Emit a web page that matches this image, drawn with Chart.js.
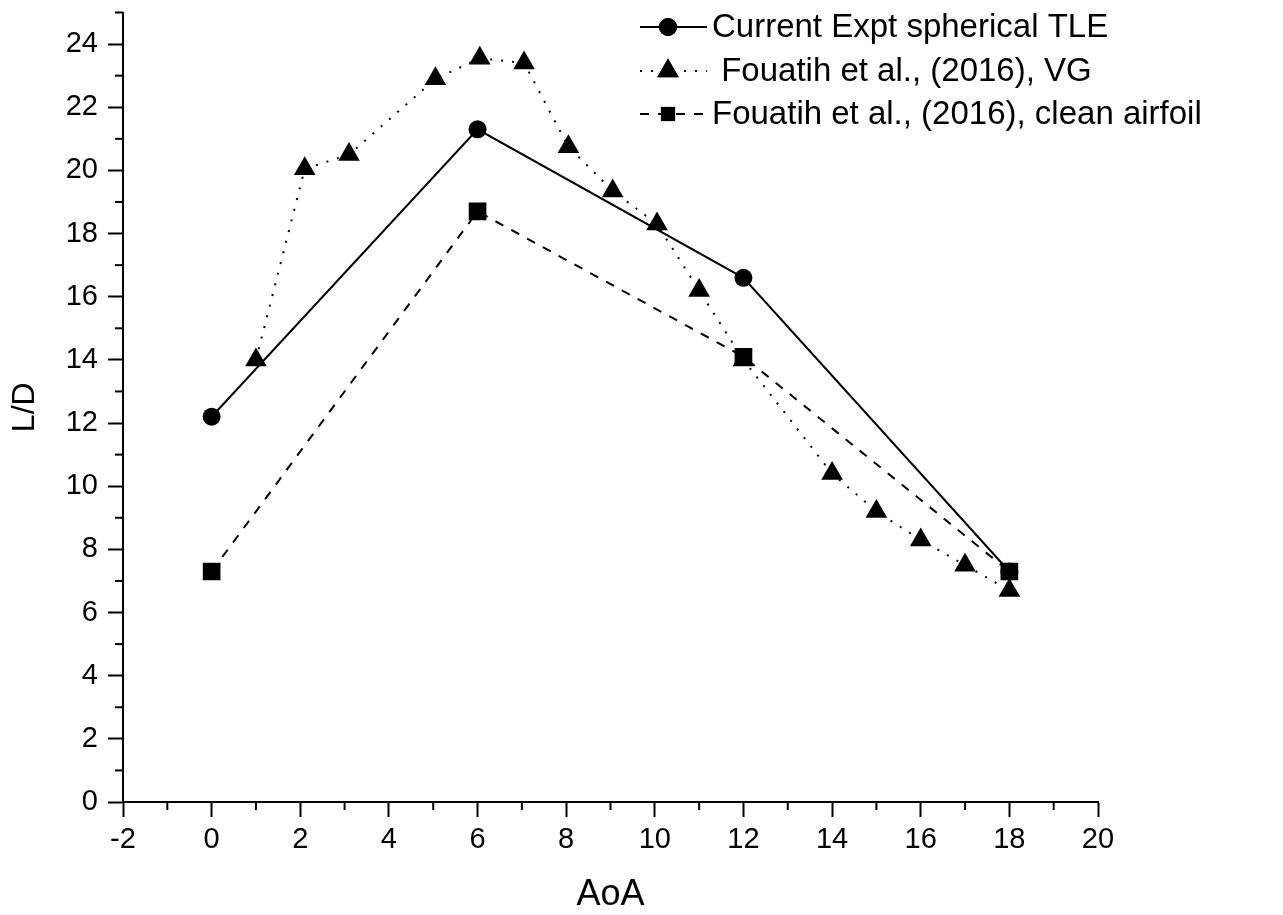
<!DOCTYPE html>
<html>
<head>
<meta charset="utf-8">
<style>
  html, body { margin: 0; padding: 0; background: #fff; }
  .chartBox { width: 1283px; height: 915px; }
</style>
</head>
<body>
<div class="chartBox">
  <canvas id="myChart" width="1283" height="915"></canvas>
</div>

<script type="text/javascript" src="https://cdn.jsdelivr.net/npm/chart.js"></script>

<script>
// data
const aoaTLE = [0, 6, 12, 18];
const ldTLE = [12.2, 21.3, 16.6, 7.3];

const aoaVG = [1, 2.1, 3.1, 5.05, 6.05, 7.05, 8.05, 9.05, 10.05, 11, 12, 14, 15, 16, 17, 18];
const ldVG = [14.0, 20.05, 20.5, 22.9, 23.55, 23.4, 20.75, 19.35, 18.3, 16.2, 14.0, 10.4, 9.2, 8.3, 7.5, 6.7];

const aoaClean = [0, 6, 12, 18];
const ldClean = [7.3, 18.7, 14.1, 7.3];

const seriesNames = ['Current Expt spherical TLE', ' Fouatih et al., (2016), VG', 'Fouatih et al., (2016), clean airfoil'];

const xTicksMin = -2, xTicksMax = 20;
const yTicksMin = 0, yTicksMax = 25;

const pts = (xs, ys) => xs.map((x, i) => ({x: x, y: ys[i]}));
const FONT = "'Liberation Sans', Arial, sans-serif";

const styles = [
  {pointStyle: 'circle', radius: 9, legendRadius: 9, dash: []},
  {pointStyle: 'triangle', radius: 12.5, legendRadius: 12.5, dash: [2, 9]},
  {pointStyle: 'rect', radius: 12.5, legendRadius: 10, dash: [9, 9]}
];
const seriesData = [pts(aoaTLE, ldTLE), pts(aoaVG, ldVG), pts(aoaClean, ldClean)];

const datasets = seriesData.map((d, i) => ({
  label: seriesNames[i],
  data: d,
  borderColor: '#000',
  backgroundColor: '#000',
  borderWidth: 2,
  borderDash: styles[i].dash,
  pointStyle: styles[i].pointStyle,
  pointRadius: styles[i].radius,
  pointHoverRadius: styles[i].radius,
  pointBorderWidth: 0,
  pointBackgroundColor: '#000',
  tension: 0,
  fill: false
}));

// minor ticks + custom legend
const extras = {
  id: 'extras',
  afterDraw(chart) {
    const ctx = chart.ctx;
    const xs = chart.scales.x, ys = chart.scales.y;
    ctx.save();
    ctx.strokeStyle = '#000';
    ctx.lineWidth = 2;
    ctx.setLineDash([]);
    for (let v = xTicksMin + 1; v < xTicksMax; v += 2) {
      const px = xs.getPixelForValue(v);
      ctx.beginPath();
      ctx.moveTo(px, ys.bottom);
      ctx.lineTo(px, ys.bottom + 8);
      ctx.stroke();
    }
    for (let v = yTicksMin + 1; v <= yTicksMax; v += 2) {
      const py = ys.getPixelForValue(v);
      ctx.beginPath();
      ctx.moveTo(xs.left, py);
      ctx.lineTo(xs.left - 8, py);
      ctx.stroke();
    }

    // legend
    const rows = [27, 71, 114];
    ctx.font = '33px ' + FONT;
    ctx.textBaseline = 'middle';
    ctx.fillStyle = '#000';
    rows.forEach((ry, i) => {
      ctx.setLineDash(styles[i].dash);
      ctx.lineWidth = 2;
      ctx.beginPath();
      ctx.moveTo(640, ry);
      ctx.lineTo(707, ry);
      ctx.stroke();
      ctx.setLineDash([]);
      Chart.helpers.drawPoint(ctx, {pointStyle: styles[i].pointStyle, radius: styles[i].legendRadius, borderWidth: 0, rotation: 0}, 668, ry);
      ctx.fill();
      ctx.fillText(seriesNames[i], 712, ry + 1);
    });
    ctx.restore();
  }
};

const config = {
  type: 'line',
  data: { datasets },
  options: {
    responsive: false,
    animation: false,
    layout: { padding: { top: 9, right: 185, left: 0, bottom: 0 } },
    plugins: { legend: { display: false }, tooltip: { enabled: false } },
    scales: {
      x: {
        type: 'linear',
        min: xTicksMin,
        max: xTicksMax,
        afterFit: s => { s.height = 113; s.paddingLeft = 0; s.paddingRight = 0; },
        ticks: { stepSize: 2, color: '#000', padding: 6, font: { family: FONT, size: 29 } },
        grid: { drawOnChartArea: false, drawTicks: true, tickLength: 15, tickWidth: 2, tickColor: '#000' },
        border: { display: true, color: '#000', width: 2 },
        title: { display: true, text: 'AoA', color: '#000', font: { family: FONT, size: 36, lineHeight: 1 }, padding: { top: 0, bottom: 2 } }
      },
      y: {
        type: 'linear',
        min: yTicksMin,
        max: yTicksMax,
        afterFit: s => { s.width = 123; s.paddingTop = 0; s.paddingBottom = 0; },
        ticks: { stepSize: 2, includeBounds: false, color: '#000', padding: 10, font: { family: FONT, size: 29 } },
        grid: { drawOnChartArea: false, drawTicks: true, tickLength: 15, tickWidth: 2, tickColor: '#000' },
        border: { display: true, color: '#000', width: 2 },
        title: { display: true, text: 'L/D', color: '#000', font: { family: FONT, size: 32, lineHeight: 1 }, padding: { top: 9, bottom: 0 } }
      }
    }
  },
  plugins: [extras]
};

const myChart = new Chart(document.getElementById('myChart'), config);
</script>
</body>
</html>
